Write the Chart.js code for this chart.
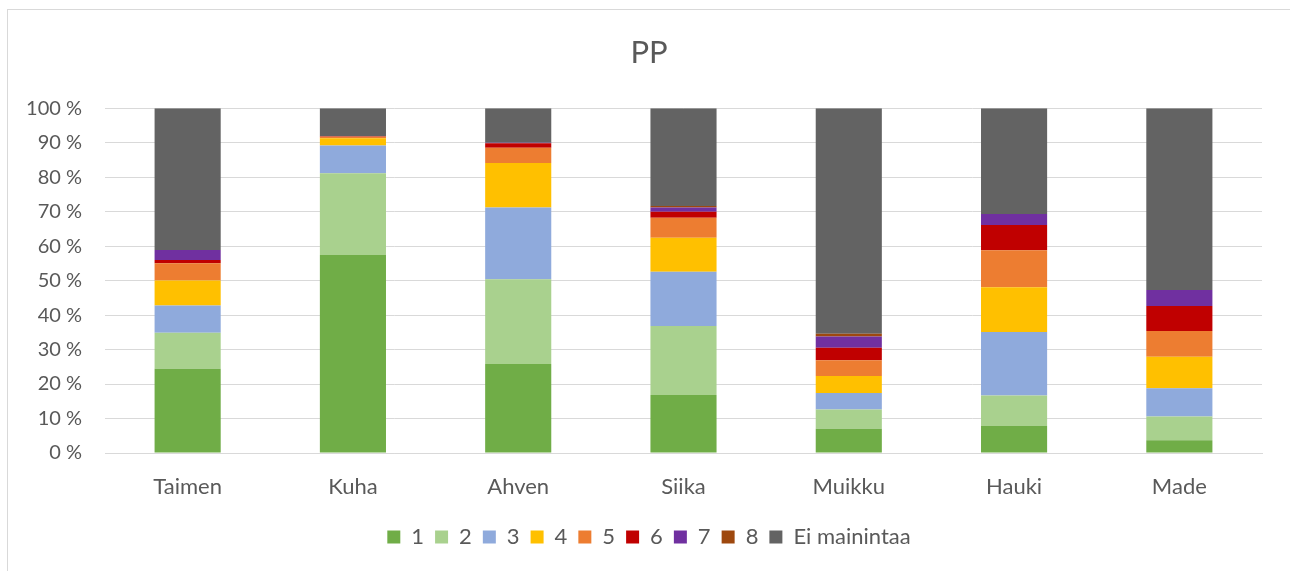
<!DOCTYPE html>
<html>
<head>
<meta charset="utf-8">
<script src="https://cdn.jsdelivr.net/npm/chart.js@4.4.1/dist/chart.umd.min.js"></script>
<style>
  html, body { margin: 0; padding: 0; background: #fff; overflow: hidden; }
  #wrap { position: relative; width: 1290px; height: 571px; overflow: hidden; }
  #frame { position: absolute; left: 7px; top: 9px; width: 1400px; height: 700px; border: 1px solid #d9d9d9; pointer-events: none; }
  canvas { position: absolute; left: 0; top: 0; }
</style>
</head>
<body>
<div id="wrap">
  <canvas id="chartPP" width="1290" height="571"></canvas>
  <div id="frame"></div>
</div>
<script>
var lajit = ["Taimen","Kuha","Ahven","Siika","Muikku","Hauki","Made"];
var sarjat = ["1","2","3","4","5","6","7","8","Ei mainintaa"];
var varit = ["#70AD47","#A9D18E","#8FAADC","#FFC000","#ED7D31","#C00000","#7030A0","#9E480E","#636363"];

// prosentit per laji, sarja kerrallaan
var s1 = [24.4, 57.4, 25.8, 16.8, 7.0, 7.8, 3.7];
var s2 = [10.5, 23.7, 24.6, 20.0, 5.6, 8.9, 6.9];
var s3 = [7.9, 8.1, 20.8, 15.8, 4.8, 18.4, 8.2];
var s4 = [7.2, 2.1, 12.9, 9.8, 4.9, 13.0, 9.1];
var s5 = [5.0, 0.4, 4.4, 5.8, 4.6, 10.7, 7.5];
var s6 = [1.0, 0.2, 1.3, 1.8, 3.6, 7.3, 7.2];
var s7 = [2.9, 0, 0.2, 1.2, 3.3, 3.2, 4.7];
var s8 = [0, 0, 0, 0.4, 0.8, 0, 0];
var sEi = [41.1, 8.1, 10.0, 28.4, 65.4, 30.7, 52.7];

var arvot = [s1,s2,s3,s4,s5,s6,s7,s8,sEi];
var teksti = "#595959";
var fontti = "Lato, 'Liberation Sans', sans-serif";

// otsikko ja selite keskelle kehystä (ei piirtoalueen mukaan)
var siirto = {
  id: 'siirto',
  afterLayout: function(chart){
    var dx = 18;
    [chart.titleBlock, chart.legend].forEach(function(b){
      if (b) { b.left += dx; b.right += dx; }
    });
  }
};

function plot(){
  var ctx = document.getElementById("chartPP");
  var dsets = [];
  for (var i = 0; i < sarjat.length; i++) {
    dsets.push({
      label: sarjat[i],
      data: arvot[i],
      backgroundColor: varit[i],
      borderWidth: 0,
      barPercentage: 0.4,
      categoryPercentage: 1.0
    });
  }

  new Chart(ctx, {
    type: 'bar',
    data: { labels: lajit, datasets: dsets },
    plugins: [siirto],
    options: {
      responsive: false,
      animation: false,
      layout: { padding: { left: 0, right: 28, top: 0, bottom: 13 } },
      plugins: {
        title: {
          display: true,
          text: "PP",
          color: teksti,
          font: { family: fontti, size: 31, weight: 'normal' },
          padding: { top: 34, bottom: 37 }
        },
        legend: {
          position: 'bottom',
          labels: {
            color: teksti,
            font: { family: fontti, size: 22 },
            boxWidth: 13,
            boxHeight: 13,
            padding: 11
          }
        },
        tooltip: { enabled: false }
      },
      scales: {
        x: {
          stacked: true,
          grid: { display: false, drawTicks: false },
          border: { color: "#d9d9d9" },
          ticks: { color: teksti, font: { family: fontti, size: 22 }, padding: 21 },
          afterFit: function(scale){ scale.height = 62; }
        },
        y: {
          stacked: true,
          min: 0,
          max: 100,
          grid: { color: "#d9d9d9", drawTicks: false },
          border: { display: false },
          ticks: {
            stepSize: 10,
            color: teksti,
            font: { family: fontti, size: 20 },
            padding: 23,
            callback: function(v){ return v + " %"; }
          },
          afterFit: function(scale){ scale.width = 105; }
        }
      }
    }
  });
}

plot();
</script>
</body>
</html>
